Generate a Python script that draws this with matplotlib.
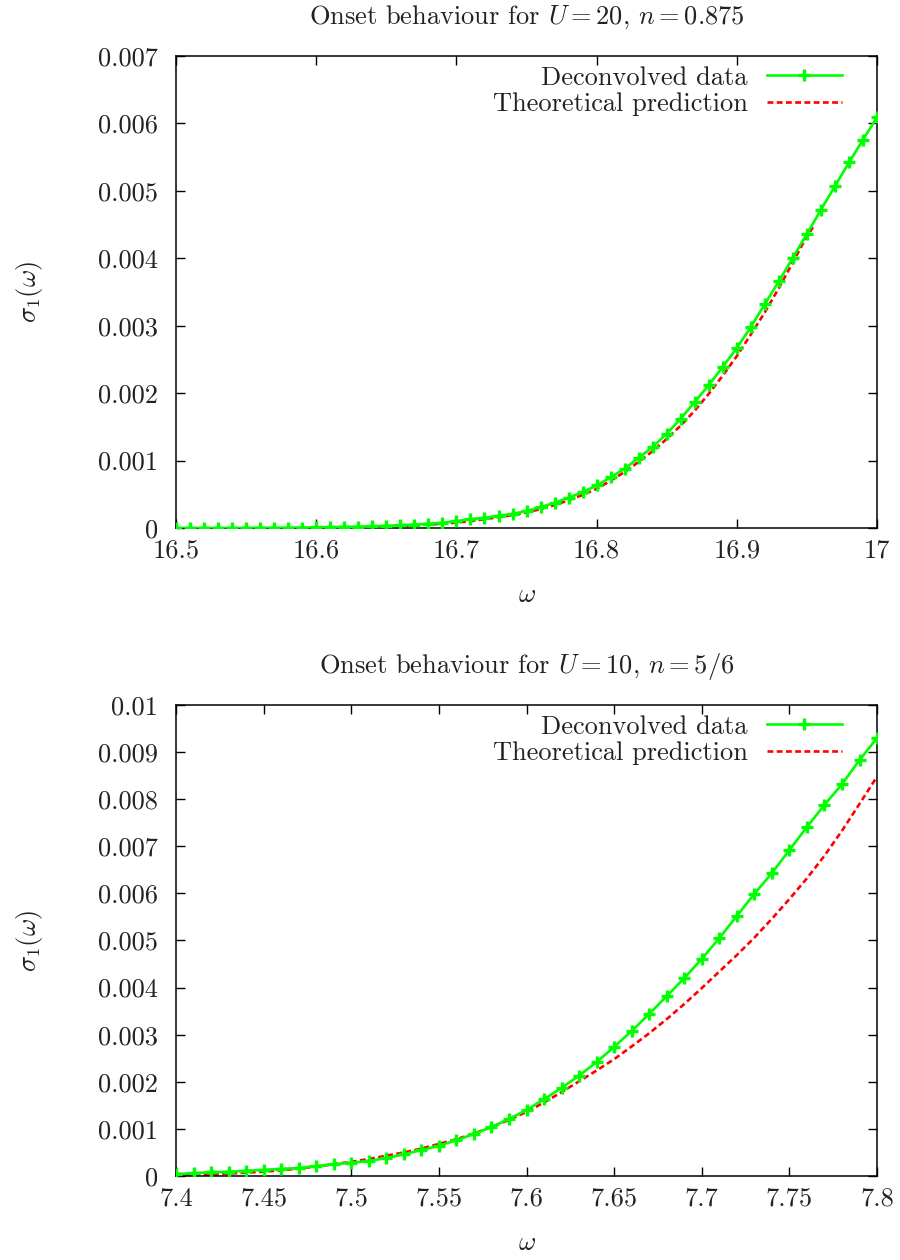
import matplotlib
matplotlib.use("Agg")
import matplotlib.pyplot as plt
import numpy as np

# font setup - computer modern look like the LaTeX terminal of gnuplot
plt.rcParams['font.family'] = 'serif'
plt.rcParams['font.serif'] = ['cmr10', 'DejaVu Serif']
plt.rcParams['mathtext.fontset'] = 'cm'
plt.rcParams['axes.formatter.use_mathtext'] = True
plt.rcParams['axes.unicode_minus'] = False

# ---- top panel data (U=20, n=0.875), values in units of 1e-3 ----
w_top = np.round(np.arange(16.50, 17.001, 0.01), 2)
data_top = [0.0, 0.0, 0.0, 0.0, 0.0, 0.001, 0.002, 0.003, 0.004, 0.006,
            0.008, 0.011, 0.015, 0.019, 0.025, 0.032, 0.040, 0.050, 0.062, 0.077,
            0.10, 0.13, 0.15, 0.18, 0.21, 0.25, 0.31, 0.37, 0.45, 0.53,
            0.63, 0.75, 0.88, 1.04, 1.20, 1.40, 1.62, 1.87, 2.12, 2.39,
            2.67, 2.98, 3.32, 3.66, 4.01, 4.36, 4.72, 5.07, 5.42, 5.76, 6.09]
w_top_th = [16.65, 16.66, 16.67, 16.68, 16.69, 16.70, 16.71, 16.72, 16.73, 16.74,
            16.75, 16.76, 16.77, 16.78, 16.79, 16.80, 16.81, 16.82, 16.83, 16.84,
            16.85, 16.86, 16.87, 16.88, 16.89, 16.90, 16.91, 16.92, 16.93, 16.94,
            16.95, 16.955]
theory_top = [0.02, 0.03, 0.04, 0.05, 0.06, 0.08, 0.10, 0.13, 0.16, 0.19,
              0.23, 0.28, 0.34, 0.41, 0.49, 0.58, 0.70, 0.83, 0.98, 1.14,
              1.32, 1.52, 1.74, 1.99, 2.26, 2.55, 2.87, 3.20, 3.56, 3.94,
              4.33, 4.48]

# ---- bottom panel data (U=10, n=5/6) ----
w_bot = np.round(np.arange(7.40, 7.801, 0.01), 2)
data_bot = [0.04, 0.06, 0.08, 0.09, 0.11, 0.13, 0.15, 0.17, 0.21, 0.25,
            0.28, 0.32, 0.38, 0.46, 0.55, 0.64, 0.76, 0.89, 1.04, 1.21,
            1.40, 1.63, 1.87, 2.13, 2.42, 2.74, 3.08, 3.44, 3.82, 4.20,
            4.61, 5.05, 5.52, 5.99, 6.43, 6.92, 7.41, 7.88, 8.32, 8.83, 9.30]
theory_bot = [0.01, 0.02, 0.03, 0.05, 0.07, 0.09, 0.12, 0.16, 0.20, 0.25,
              0.30, 0.36, 0.43, 0.50, 0.58, 0.68, 0.78, 0.90, 1.04, 1.19,
              1.36, 1.56, 1.78, 2.01, 2.24, 2.48, 2.75, 3.03, 3.33, 3.65,
              3.99, 4.34, 4.69, 5.06, 5.46, 5.88, 6.32, 6.80, 7.33, 7.90, 8.48]

xt_top = [16.5, 16.6, 16.7, 16.8, 16.9, 17.0]
xl_top = ['16.5', '16.6', '16.7', '16.8', '16.9', '17']
yt_top = [0, 0.001, 0.002, 0.003, 0.004, 0.005, 0.006, 0.007]
yl_top = ['0', '0.001', '0.002', '0.003', '0.004', '0.005', '0.006', '0.007']

xt_bot = [7.4, 7.45, 7.5, 7.55, 7.6, 7.65, 7.7, 7.75, 7.8]
xl_bot = ['7.4', '7.45', '7.5', '7.55', '7.6', '7.65', '7.7', '7.75', '7.8']
yt_bot = [0, 0.001, 0.002, 0.003, 0.004, 0.005, 0.006, 0.007, 0.008, 0.009, 0.01]
yl_bot = ['0', '0.001', '0.002', '0.003', '0.004', '0.005', '0.006', '0.007',
          '0.008', '0.009', '0.01']

titles = [r'Onset behaviour for $U = 20$, $n = 0.875$',
          r'Onset behaviour for $U = 10$, $n = 5/6$']

fig = plt.figure(figsize=(9, 12.6), dpi=100)
ax1 = fig.add_axes([0.1956, 0.5810, 0.7789, 0.3746])
ax2 = fig.add_axes([0.1956, 0.0667, 0.7789, 0.3738])

txt = '#222222'
fs = 19

def draw(ax, w, d, wt, t, xt, xl, yt, yl, title):
    ax.plot(w, np.array(d) * 1e-3, color='#00ff00', lw=1.9, marker='+',
            ms=8, mew=2.4, label='Deconvolved data', zorder=3)
    ax.plot(wt, np.array(t) * 1e-3, color='#ff0000', lw=1.9,
            dashes=(2.2, 1.3), label='Theoretical prediction', zorder=2)
    ax.set_xlim(xt[0], xt[-1])
    ax.set_ylim(yt[0], yt[-1])
    ax.set_xticks(xt)
    ax.set_xticklabels(xl)
    ax.set_yticks(yt)
    ax.set_yticklabels(yl)
    ax.tick_params(direction='in', length=6.5, width=1.0, top=True, right=True,
                   labelsize=fs, colors='black', labelcolor=txt)
    ax.tick_params(axis='x', pad=8)
    ax.tick_params(axis='y', pad=13)
    for s in ax.spines.values():
        s.set_linewidth(1.1)
    ax.set_xlabel(r'$\omega$', fontsize=fs, color=txt, labelpad=15)
    ax.set_ylabel(r'$\sigma_1(\omega)$', fontsize=fs, color=txt, labelpad=38)
    ax.set_title(title, fontsize=fs, color=txt, pad=23)
    leg = ax.legend(loc='upper right', bbox_to_anchor=(0.950, 0.979),
                    frameon=False, markerfirst=False, numpoints=1,
                    handlelength=2.85, handletextpad=0.72, labelspacing=0.1,
                    borderpad=0, borderaxespad=0, fontsize=fs)
    for tx in leg.get_texts():
        tx.set_color(txt)

draw(ax1, w_top, data_top, w_top_th, theory_top, xt_top, xl_top, yt_top, yl_top, titles[0])
draw(ax2, w_bot, data_bot, w_bot, theory_bot, xt_bot, xl_bot, yt_bot, yl_bot, titles[1])

fig.savefig('out.png', dpi=100)
